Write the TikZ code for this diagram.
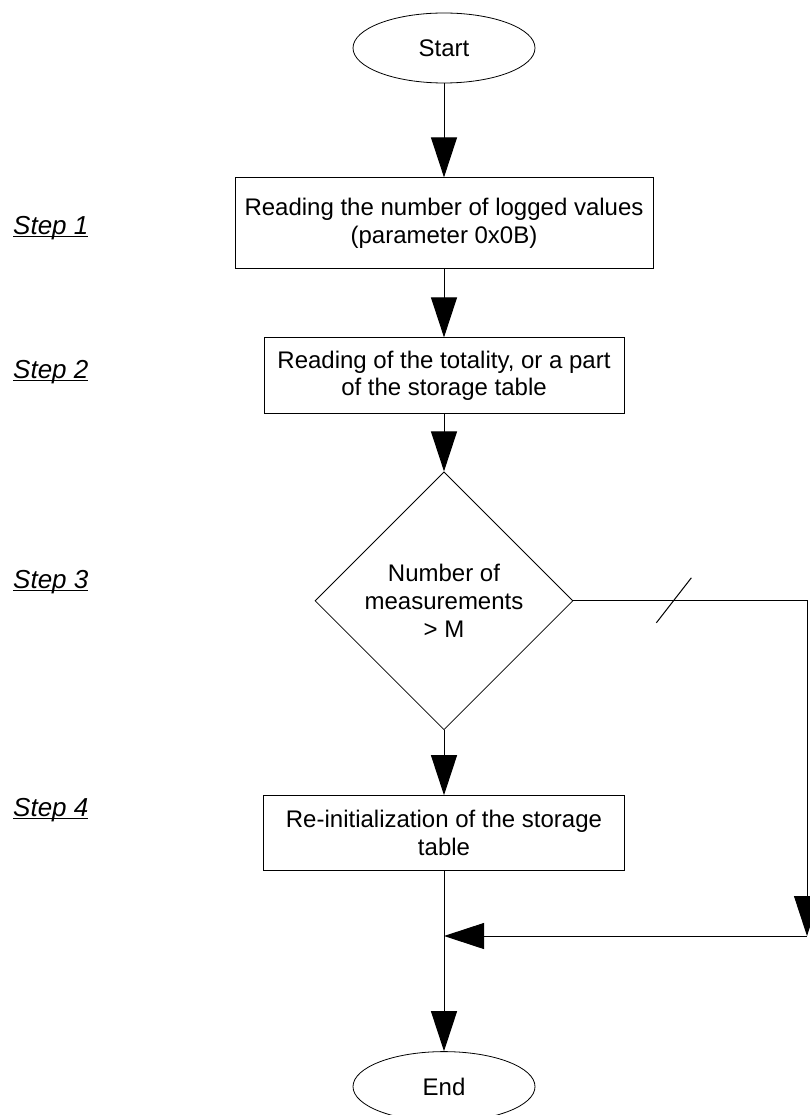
\documentclass[tikz,border=0pt]{standalone}
\usepackage{fontspec}
\setmainfont{Liberation Sans}
\usepackage{tikz}
\usetikzlibrary{shapes.geometric, arrows.meta, positioning, calc}

\newsavebox{\steptxt}
\newcommand{\ulstep}[1]{\sbox{\steptxt}{\textit{#1}}\rlap{\rule[-3pt]{\wd\steptxt}{1.3pt}}\usebox{\steptxt}}

\begin{document}
\begin{tikzpicture}[
  x=1pt, y=-1pt,
  every node/.style={font=\fontsize{24pt}{27.6pt}\selectfont},
  box/.style={draw=black, line width=1pt, align=center, inner sep=0pt},
  term/.style={draw=black, line width=0.8pt, ellipse, minimum width=182pt, minimum height=70pt, inner sep=0pt},
  decision/.style={draw=black, line width=0.8pt, diamond, aspect=1, minimum width=258pt, minimum height=258pt, inner sep=0pt, align=center},
  stepnote/.style={anchor=west, inner sep=0pt, font=\fontsize{26pt}{30pt}\selectfont},
  arrow/.style={-{Triangle[length=40pt, width=26pt]}, line width=1pt, draw=black}
]
  \useasboundingbox (0,0) rectangle (810,1115);

  % Main column
  \node[term] (start) at (444,48) {Start};
  \node[box, minimum width=418pt, minimum height=91pt, below=94pt of start] (read) {Reading the number of logged values\\(parameter 0x0B)};
  \node[box, minimum width=360pt, minimum height=76pt, below=68pt of read] (table) {Reading of the totality, or a part\\of the storage table};
  \node[decision, below=57pt of table] (count) {Number of\\measurements\\> M};
  \node[box, minimum width=361pt, minimum height=75pt, below=65pt of count] (reinit) {Re-initialization of the storage\\table};
  \node[term, below=180pt of reinit] (stop) {End};
  \draw[arrow] (start) -- (read);
  \draw[arrow] (read) -- (table);
  \draw[arrow] (table) -- (count);
  \draw[arrow] (count) -- (reinit);
  \draw[arrow] (reinit) -- (stop);

  % Step labels (left)
  \node[stepnote] (s1) at (13,228) {\ulstep{Step 1}};
  \node[stepnote] (s2) at (13,372) {\ulstep{Step 2}};
  \node[stepnote] (s3) at (13,582) {\ulstep{Step 3}};
  \node[stepnote] (s4) at (13,810) {\ulstep{Step 4}};

  % Bypass (right)
  \coordinate (corner) at (807,936);
  \coordinate (join) at (444,936);
  \coordinate (turn) at (count.east -| corner);
  \draw[arrow] (count.east) -- (turn) -- (corner);
  \draw[arrow] (corner) -- (join);
  \path (count.east) -- (turn) coordinate[pos=0.43] (tick);
  \draw[line width=1pt] ([shift={(-17.5,22)}]tick) -- ([shift={(17.5,-23)}]tick);

\end{tikzpicture}
\end{document}
